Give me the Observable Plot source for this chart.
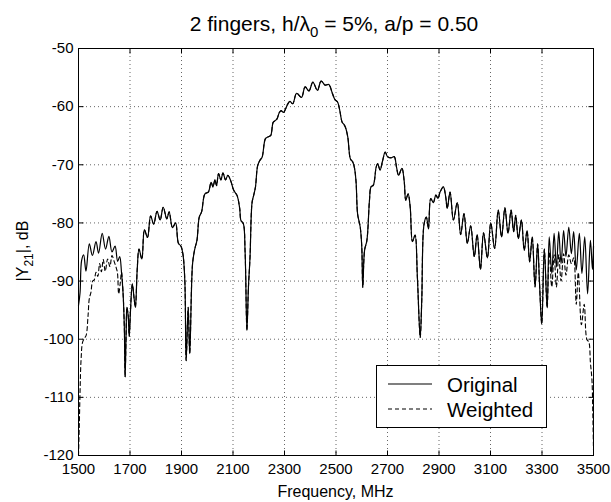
<!DOCTYPE html>
<html><head><meta charset="utf-8">
<script src="https://cdn.jsdelivr.net/npm/d3@7"></script>
<script src="https://cdn.jsdelivr.net/npm/@observablehq/plot@0.6"></script>
<style>body{margin:0;background:#fff}svg{display:block}</style>
</head><body><div id="chart"></div>
<script>
const originalFreq = [1500,1506,1512,1520,1529,1542,1554,1568,1578,1592,1605,1618,1630,1642,1652,1660,1667,1673,1678,1681,1685,1688,1693,1697,1702,1709,1716,1721,1728,1735,1746,1756,1768,1780,1792,1805,1817,1829,1843,1852,1865,1877,1888,1898,1906,1913,1918,1926,1932,1943,1952,1960,1969,1978,1991,2004,2015,2022,2030,2036,2044,2053,2061,2071,2080,2090,2103,2116,2126,2131,2140,2147,2154,2160,2166,2174,2180,2187,2196,2205,2213,2226,2236,2246,2256,2264,2271,2280,2287,2296,2304,2312,2321,2332,2347,2366,2380,2395,2410,2428,2442,2458,2472,2485,2496,2506,2514,2524,2530,2537,2546,2556,2565,2572,2578,2584,2594,2600,2604,2611,2620,2630,2636,2645,2656,2662,2671,2681,2691,2700,2713,2726,2735,2743,2756,2765,2771,2780,2788,2797,2807,2816,2827,2833,2842,2851,2859,2868,2878,2888,2896,2904,2917,2926,2932,2943,2956,2971,2984,2997,3010,3023,3037,3048,3061,3073,3088,3101,3116,3130,3143,3156,3168,3180,3190,3198,3208,3220,3231,3242,3252,3262,3273,3283,3290,3299,3309,3320,3328,3338,3347,3356,3365,3374,3384,3393,3404,3414,3423,3433,3445,3455,3466,3477,3488,3496,3500];
const originalDb = [-94.2,-92,-86.5,-85.5,-88.3,-83.6,-85.6,-83.2,-85.2,-81.8,-84.5,-82.3,-85.0,-84.0,-86.6,-85.8,-88.5,-92,-98,-106.5,-99,-94.5,-96,-99.5,-95,-90.5,-93,-94.5,-88,-84.5,-86.2,-81.2,-82.5,-78.8,-80.2,-78.0,-79.5,-77.3,-79.3,-78.1,-80.8,-80.0,-83.5,-84.0,-85.5,-90,-103.7,-94.5,-102.5,-87,-84.4,-83,-79,-78.1,-75,-74.7,-73,-73.8,-72.6,-73.6,-71.5,-72.6,-71.4,-72.6,-71.8,-72.6,-74.4,-75.3,-77.5,-79.6,-80.1,-85,-98.5,-91,-86,-76.5,-75.3,-73.9,-70.1,-69.2,-68.7,-65.5,-65.2,-65.0,-62.7,-62.4,-62.1,-61.0,-60.7,-61.0,-60.4,-59.6,-59.1,-59.5,-57.7,-58.4,-56.6,-57.3,-55.8,-57.2,-55.6,-56.3,-56.2,-57.6,-58.8,-59.2,-60.5,-62.7,-63.0,-63.6,-65.3,-69,-69.5,-70.6,-73,-78.5,-80.7,-84,-91.1,-84.7,-83,-76.1,-73.8,-73.5,-70.4,-69.8,-70.9,-69.3,-67.8,-68.6,-68.8,-68.6,-70.4,-71.8,-70.6,-72.9,-76.1,-75,-77.2,-83.2,-82.1,-89.3,-99.7,-93.4,-80.2,-79,-81,-75.8,-76.5,-75.2,-75.8,-74.7,-73.8,-75.5,-77.5,-74.7,-79.5,-76.5,-82,-78.4,-83.5,-80.5,-85.8,-82,-88,-81.7,-86,-80,-84.4,-77.8,-82.4,-77.4,-81.8,-77.8,-81.5,-78.7,-82.7,-79.5,-84.7,-81.3,-86.7,-82.4,-91,-83.6,-90,-97.4,-84.5,-94.6,-82.4,-88.7,-81.8,-87.6,-81.5,-87,-81.3,-85.8,-80.7,-85.3,-81.5,-88.1,-81.8,-88.7,-82.4,-92.2,-83,-88,-84];

// Weighted response: differs from the original only at the band edges
const weightedLowFreq = [1500,1503,1506,1510,1516,1524,1530,1537,1542,1548,1555,1561,1568,1575,1582,1589,1596,1604,1613,1622,1630,1639,1645,1651,1656,1662];
const weightedLowDb = [-120,-115,-109,-103.5,-100.5,-99.8,-99.3,-96,-93,-92,-90,-89.8,-88.5,-89.2,-87,-88.4,-86.3,-88.3,-86.2,-87.5,-85.6,-86.7,-87.5,-88.5,-92.2,-90.4];
const weightedHighFreq = [3328,3338,3347,3356,3365,3374,3384,3393,3404,3414,3423,3433,3441,3453,3464,3474,3482,3488,3494,3497,3500];
const weightedHighDb = [-85,-91,-85.5,-91,-85.5,-90,-85.3,-89,-85.5,-87,-86,-94,-88.5,-97.5,-94,-100,-100.5,-104,-107,-112,-119];

const xTicks = [1500,1700,1900,2100,2300,2500,2700,2900,3100,3300,3500];
const yTicks = [-120,-110,-100,-90,-80,-70,-60,-50];
const seriesNames = ["Original", "Weighted"];

const original = originalFreq.map((f, i) => ({f, v: originalDb[i]}));
const lowEnd = weightedLowFreq[weightedLowFreq.length - 1];
const highStart = weightedHighFreq[0];
const weighted = [
  ...weightedLowFreq.map((f, i) => ({f, v: weightedLowDb[i]})),
  ...original.filter(d => d.f > lowEnd && d.f < highStart),
  ...weightedHighFreq.map((f, i) => ({f, v: weightedHighDb[i]}))
];

const FONT = "'Liberation Sans', Arial, Helvetica, sans-serif";
const xMin = xTicks[0], xMax = xTicks[xTicks.length - 1];
const yMin = yTicks[0], yMax = yTicks[yTicks.length - 1];
const tickMark = {length: 5, anchor: "start", r: 0, stroke: "#000", strokeWidth: 1, strokeLinecap: "butt"};

const chart = Plot.plot({
  width: 611, height: 502,
  marginLeft: 78, marginRight: 18, marginTop: 48, marginBottom: 47,
  style: {fontFamily: FONT, fontSize: "15px", background: "#fff", color: "#000"},
  x: {domain: [xMin, xMax]},
  y: {domain: [yMin, yMax]},
  marks: [
    Plot.gridX(xTicks, {stroke: "#666", strokeOpacity: 1, strokeWidth: 1, strokeDasharray: "1,3"}),
    Plot.gridY(yTicks, {stroke: "#666", strokeOpacity: 1, strokeWidth: 1, strokeDasharray: "1,3"}),
    Plot.line(weighted, {x: "f", y: "v", stroke: "#000", strokeWidth: 1.1, strokeDasharray: "4,3", curve: "catmull-rom"}),
    Plot.line(original, {x: "f", y: "v", stroke: "#000", strokeWidth: 1.2, curve: "catmull-rom"}),
    Plot.vector(xTicks, {x: d => d, y: yMin, rotate: 0, ...tickMark}),
    Plot.vector(xTicks, {x: d => d, y: yMax, rotate: 180, ...tickMark}),
    Plot.vector(yTicks, {x: xMin, y: d => d, rotate: 90, ...tickMark}),
    Plot.vector(yTicks, {x: xMax, y: d => d, rotate: -90, ...tickMark}),
    Plot.axisX(xTicks, {tickSize: 0, tickPadding: 8, label: null, tickFormat: d => String(d), fontSize: 15}),
    Plot.axisY(yTicks, {tickSize: 0, tickPadding: 5, label: null, tickFormat: d => String(d), fontSize: 15}),
    Plot.frame({stroke: "#000", strokeWidth: 1})
  ]
});
document.getElementById("chart").appendChild(chart);

const svg = d3.select(chart);
// Title with subscript
const title = svg.append("text").attr("x", 334).attr("y", 31).attr("text-anchor", "middle")
  .attr("font-family", FONT).attr("font-size", 21).attr("fill", "#000");
title.append("tspan").text("2 fingers, h/λ");
title.append("tspan").attr("dy", 6).attr("font-size", 15).text("0");
title.append("tspan").attr("dy", -6).text(" = 5%, a/p = 0.50");

// x label
svg.append("text").attr("x", 335.5).attr("y", 497).attr("text-anchor", "middle")
  .attr("font-family", FONT).attr("font-size", 16).attr("fill", "#000").text("Frequency, MHz");

// y label with subscript
const ylab = svg.append("text").attr("transform", "translate(28,251) rotate(-90)").attr("text-anchor", "middle")
  .attr("font-family", FONT).attr("font-size", 16).attr("fill", "#000");
ylab.append("tspan").text("|Y");
ylab.append("tspan").attr("dy", 5).attr("font-size", 12).text("21");
ylab.append("tspan").attr("dy", -5).text("|, dB");

// Legend
const lg = svg.append("g");
lg.append("rect").attr("x", 376.5).attr("y", 365.5).attr("width", 170).attr("height", 62)
  .attr("fill", "#fff").attr("stroke", "#000").attr("stroke-width", 1);
const legendDash = [null, "4,3"];
seriesNames.forEach((name, i) => {
  const yy = 384 + i * 25;
  lg.append("line").attr("x1", 388).attr("x2", 432).attr("y1", yy).attr("y2", yy)
    .attr("stroke", "#000").attr("stroke-width", 1.2).attr("stroke-dasharray", legendDash[i]);
  lg.append("text").attr("x", 447).attr("y", yy + 7.5).attr("text-anchor", "start").attr("font-family", FONT)
    .attr("font-size", 20.5).attr("fill", "#000").text(name);
});
</script>
</body></html>
